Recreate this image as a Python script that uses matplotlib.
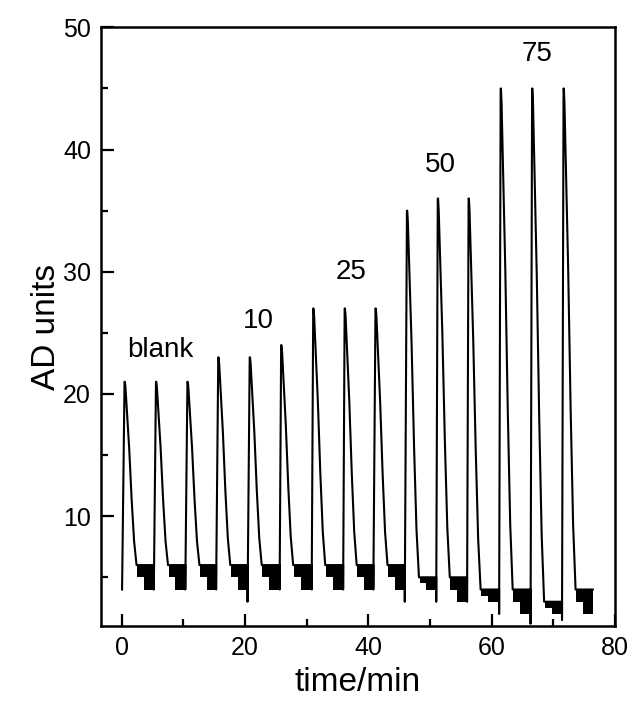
import matplotlib
matplotlib.use('Agg')
import matplotlib.pyplot as plt
from matplotlib.ticker import MultipleLocator

plt.rcParams['font.family'] = ['Liberation Sans', 'DejaVu Sans']

# injection (rise) time and peak top time of each of the 15 peaks, in min
rise_t = [0.05, 5.2, 10.3, 15.3, 20.4, 25.6, 30.8, 35.9, 40.8, 45.9, 51.0, 56.0, 61.2, 66.3, 71.4]
top_t = [0.5, 5.6, 10.7, 15.7, 20.8, 25.9, 31.1, 36.2, 41.2, 46.3, 51.3, 56.3, 61.5, 66.6, 71.7]
peak_h = [21, 21, 21, 23, 23, 24, 27, 27, 27, 35, 36, 36, 45, 45, 45]
dip = [4, 4, 4, 4, 3, 4, 4, 4, 4, 3, 3, 3, 2, 1.2, 1.5]

# baseline levels after each peak (top of noise band, middle step, bottom)
base_hi = [6, 6, 6, 6, 6, 6, 6, 6, 6, 5, 5, 4, 4, 3, 4]
base_mid = [5, 5, 5, 5, 5, 5, 5, 5, 5, 4.5, 4, 3.5, 3, 2.5, 3]
base_lo = [4, 4, 4, 4, 4, 4, 4, 4, 4, 4, 3, 3, 2, 2, 2]
end_t = 76.4

# shape of the tail read from the first peak: time after top, fraction of height
tail_dt = [0.0, 0.1, 0.7, 1.1, 1.5, 1.9]
tail_frac = [1.0, 0.97, 0.64, 0.36, 0.13, 0.0]

labels = ['blank', '10', '25', '50', '75']
label_x = [6.3, 22.1, 37.2, 51.7, 67.3]
label_y = [23.6, 26.0, 30.0, 38.7, 47.8]

fig = plt.figure(figsize=(6.42, 7.02), dpi=100)
ax = fig.add_axes([0.157, 0.108, 0.801, 0.853])

xs, ys = [], []
n = len(peak_h)
for i in range(n):
    h = peak_h[i]
    hi = base_hi[i]
    # rise
    xs += [rise_t[i], rise_t[i], top_t[i] - 0.05]
    ys += [hi if i == 0 else base_hi[i - 1], dip[i], h]
    # tail
    for dt, f in zip(tail_dt, tail_frac):
        xs.append(top_t[i] + dt)
        ys.append(hi + f * (h - hi))
    te = top_t[i] + tail_dt[-1]
    nxt = rise_t[i + 1] if i + 1 < n else end_t
    xs.append(nxt)
    ys.append(hi)
    # noise band on the baseline
    ax.fill_between([te + 0.1, nxt], base_mid[i], hi, color='black', lw=0)
    ax.fill_between([te + 1.2, nxt - 0.05], base_lo[i], base_mid[i], color='black', lw=0)

ax.plot(xs[1:], ys[1:], color='black', lw=1.5)

for s, x, y in zip(labels, label_x, label_y):
    ax.text(x, y, s, fontsize=20, ha='center', va='center')

ax.set_xlim(-3.4, 80)
ax.set_ylim(1.0, 50)
ax.xaxis.set_major_locator(MultipleLocator(20))
ax.xaxis.set_minor_locator(MultipleLocator(10))
ax.yaxis.set_major_locator(MultipleLocator(10))
ax.yaxis.set_minor_locator(MultipleLocator(5))
ax.tick_params(which='both', direction='in', width=1.6, top=False, right=False)
ax.tick_params(which='major', length=9, labelsize=18, pad=7)
ax.tick_params(which='minor', length=5)
for sp in ax.spines.values():
    sp.set_linewidth(1.8)

ax.set_xlabel('time/min', fontsize=24, labelpad=5)
ax.set_ylabel('AD units', fontsize=24, labelpad=1)

fig.savefig('out.png', dpi=100)
